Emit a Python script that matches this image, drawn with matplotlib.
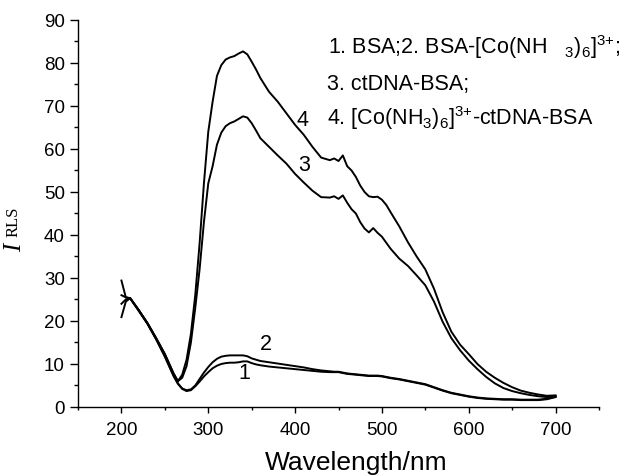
import matplotlib
matplotlib.use("Agg")
import matplotlib.pyplot as plt
from matplotlib.ticker import MultipleLocator

plt.rcParams['font.family'] = ['Liberation Sans', 'DejaVu Sans']
plt.rcParams['mathtext.fontset'] = 'custom'
plt.rcParams['mathtext.rm'] = 'Liberation Sans'
plt.rcParams['mathtext.it'] = 'Liberation Sans:italic'

# wavelength grid (nm)
wl = [200, 205, 210, 220, 230, 240, 250, 260, 265, 270, 275, 280, 285, 290, 295,
      300, 305, 310, 315, 320, 325, 330, 335, 340, 345, 350, 355, 360, 370, 380,
      390, 400, 410, 420, 430, 440, 445, 450, 455, 460, 465, 470, 475, 480, 485,
      490, 495, 500, 505, 510, 520, 530, 540, 550, 560, 570, 580, 590, 600, 610,
      620, 630, 640, 650, 660, 670, 680, 690, 700]

# 1. BSA
curve1 = [24.0, 25.0, 25.3, 22.3, 19.3, 15.7, 11.7, 7.2, 5.4, 4.2, 3.7, 3.9, 4.8, 5.9, 7.1,
          8.1, 9.0, 9.6, 10.0, 10.2, 10.3, 10.3, 10.4, 10.6, 10.6, 10.2, 9.9, 9.7, 9.4, 9.2,
          9.0, 8.8, 8.6, 8.4, 8.2, 8.1, 8.1, 8.1, 7.9, 7.7, 7.6, 7.5, 7.4, 7.3, 7.2,
          7.2, 7.2, 7.1, 6.9, 6.7, 6.4, 6.0, 5.6, 5.2, 4.5, 3.8, 3.2, 2.8, 2.4, 2.1,
          1.9, 1.8, 1.7, 1.7, 1.6, 1.6, 1.6, 1.8, 2.3]

# 2. BSA-[Co(NH3)6]3+
curve2 = [26.0, 25.5, 25.3, 22.5, 19.4, 15.8, 11.8, 7.3, 5.5, 4.3, 3.9, 4.1, 5.0, 6.5, 8.0,
          9.3, 10.4, 11.2, 11.7, 11.9, 12.0, 12.0, 12.0, 12.0, 11.8, 11.3, 11.0, 10.7, 10.4, 10.1,
          9.8, 9.5, 9.2, 8.8, 8.5, 8.3, 8.2, 8.2, 8.0, 7.8, 7.7, 7.6, 7.5, 7.4, 7.3,
          7.3, 7.3, 7.2, 7.0, 6.8, 6.5, 6.1, 5.7, 5.3, 4.6, 3.9, 3.3, 2.9, 2.5, 2.2,
          2.0, 1.9, 1.8, 1.8, 1.7, 1.7, 1.7, 1.9, 2.4]

# 3. ctDNA-BSA
curve3 = [20.9, 24.5, 25.3, 22.5, 19.5, 16.0, 12.3, 7.8, 6.0, 6.8, 9.5, 15.0, 23.0, 32.0, 43.0,
          52.0, 56.0, 61.0, 63.8, 65.3, 66.0, 66.4, 67.0, 67.6, 67.3, 66.0, 64.3, 62.5, 60.5, 58.5,
          56.6, 54.2, 52.2, 50.3, 48.8, 48.7, 49.0, 48.4, 49.2, 47.5, 46.0, 45.0, 43.0, 41.5, 40.6,
          41.6, 40.5, 39.6, 38.2, 36.8, 34.5, 32.8, 30.6, 28.3, 24.5, 19.8, 16.0, 13.2, 10.8, 8.8,
          7.0, 5.5, 4.4, 3.7, 3.2, 2.8, 2.5, 2.3, 2.5]

# 4. [Co(NH3)6]3+-ctDNA-BSA
curve4 = [29.4, 25.5, 25.3, 22.5, 19.5, 16.0, 12.3, 7.8, 6.0, 7.5, 11.0, 17.0, 26.0, 38.0, 52.0,
          64.0, 71.0, 77.0, 79.5, 80.8, 81.3, 81.6, 82.2, 82.7, 82.0, 80.3, 78.5, 76.5, 73.3, 71.0,
          68.3, 65.6, 63.3, 60.5, 58.0, 57.4, 57.8, 57.2, 58.5, 56.0, 55.0, 53.5, 51.5, 50.0, 49.0,
          48.8, 48.9, 48.2, 47.0, 45.3, 42.0, 38.3, 35.0, 32.0, 27.5, 22.0, 17.5, 14.5, 12.3, 10.0,
          8.2, 6.8, 5.6, 4.6, 3.8, 3.3, 2.9, 2.6, 2.7]

fig = plt.figure(figsize=(6.37, 4.77), dpi=100)
ax = fig.add_axes([0.1225, 0.1447, 0.8178, 0.8113])

for c in (curve1, curve2, curve3, curve4):
    ax.plot(wl, c, color='black', lw=1.4)

ax.set_xlim(150, 750)
ax.set_ylim(0, 90)
ax.xaxis.set_major_locator(MultipleLocator(100))
ax.xaxis.set_minor_locator(MultipleLocator(50))
ax.yaxis.set_major_locator(MultipleLocator(10))
ax.yaxis.set_minor_locator(MultipleLocator(5))
ax.set_xticks([200, 300, 400, 500, 600, 700])
ax.spines['top'].set_visible(False)
ax.spines['right'].set_visible(False)
for s in ('left', 'bottom'):
    ax.spines[s].set_linewidth(1.0)
ax.tick_params(axis='x', which='major', direction='out', length=4, width=1.0, labelsize=13.5, pad=6)
ax.tick_params(axis='x', which='minor', direction='out', length=2.5, width=1.0)
ax.tick_params(axis='y', which='major', direction='out', length=5.5, width=1.0, labelsize=13.5, pad=4)
ax.tick_params(axis='y', which='minor', direction='out', length=3, width=1.0)

ax.set_xlabel('Wavelength/nm', fontsize=19)
ax.xaxis.label.set_verticalalignment('baseline')
ax.xaxis.set_label_coords(0.534, -0.160)

# y label: italic serif I with RLS subscript
fig.text(0.024, 0.48, 'I', rotation=90, fontsize=18, style='italic',
         family='Liberation Serif', ha='center', va='center')
fig.text(0.022, 0.535, 'RLS', rotation=90, fontsize=12,
         family='Liberation Serif', ha='center', va='center')

# legend text
ax.text(437.9, 82.3, r'1. BSA;2. BSA-[Co(NH$\ \ \ _3$)$_6$]$^{3{+}}$;', fontsize=15.5, va='baseline')
ax.text(436.7, 74.0, '3. ctDNA-BSA;', fontsize=15.5, va='baseline')
ax.text(436.7, 65.8, r'4. [Co(NH$_3$)$_6$]$^{3{+}}$-ctDNA-BSA', fontsize=15.5, va='baseline')

# curve labels
ax.text(408.5, 66.9, '4', fontsize=15.5, ha='center', va='center')
ax.text(410.3, 56.4, '3', fontsize=15.5, ha='center', va='center')
ax.text(366.5, 14.8, '2', fontsize=15.5, ha='center', va='center')
ax.text(341.2, 8.0, '1', fontsize=15.5, ha='center', va='center')

fig.savefig('out.png', dpi=100)
